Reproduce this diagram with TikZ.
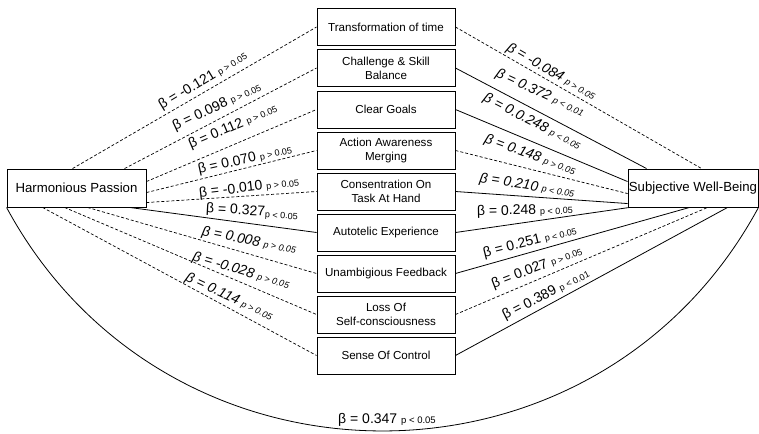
\documentclass[tikz,border=0pt]{standalone}
\usepackage{fontspec}
\setmainfont{Liberation Sans}
\newcommand{\pv}[1]{{\fontsize{9}{10}\selectfont #1}}

\tikzset{
  box/.style={draw, line width=0.9pt, inner sep=0pt, align=center},
  midbox/.style={box, minimum width=138pt, minimum height=37pt, font=\fontsize{11.6}{14}\selectfont},
  endbox/.style={box, minimum height=38pt, font=\fontsize{13.2}{15}\selectfont},
  sig/.style={line width=0.8pt},
  nsig/.style={line width=0.7pt, dash pattern=on 3pt off 2pt},
  lab/.style={inner sep=0pt, font=\fontsize{14}{15}\selectfont},
  slab/.style={lab, font=\fontsize{14}{15}\selectfont\itshape}
}

\begin{document}
\begin{tikzpicture}[x=1pt, y=-1pt]
			\useasboundingbox (0,0) rectangle (759,433);
			% outer variables
			\node[endbox, minimum width=139pt] (hp) at (76.5,188) {Harmonious Passion};
			\node[endbox, minimum width=130pt] (swb) at (693,188) {Subjective Well-Being};
			% flow dimensions
			\node[midbox] (time) at (386,27) {Transformation of time};
			\node[midbox] (balance) at (386,68) {Challenge \& Skill\\Balance};
			\node[midbox] (goals) at (386,109.5) {Clear Goals};
			\node[midbox] (merging) at (386,150.5) {Action Awareness\\Merging};
			\node[midbox] (focus) at (386,191.5) {Consentration On\\Task At Hand};
			\node[midbox] (autotelic) at (386,232.5) {Autotelic Experience};
			\node[midbox] (feedback) at (386,273.5) {Unambigious Feedback};
			\node[midbox] (selfcon) at (386,314.5) {Loss Of\\Self-consciousness};
			\node[midbox] (control) at (386,355.5) {Sense Of Control};
			% passion -> flow
			\draw[nsig] ([xshift=66pt]hp.north west) -- (time.west);
			\draw[nsig] ([xshift=118pt]hp.north west) -- (balance.west);
			\draw[nsig] ([yshift=-13pt]hp.north east) -- (goals.west);
			\draw[nsig] ([yshift=-24pt]hp.north east) -- (merging.west);
			\draw[nsig] ([yshift=-34pt]hp.north east) -- (focus.west);
			\draw[sig] ([xshift=123pt]hp.south west) -- (autotelic.west);
			\draw[nsig] ([xshift=81pt]hp.south west) -- (feedback.west);
			\draw[nsig] ([xshift=58pt]hp.south west) -- (selfcon.west);
			\draw[nsig] ([xshift=36pt]hp.south west) -- (control.west);
			% flow -> well-being
			\draw[nsig] (time.east) -- ([xshift=74pt]swb.north west);
			\draw[sig] (balance.east) -- ([xshift=19pt]swb.north west);
			\draw[sig] (goals.east) -- ([yshift=-13pt]swb.north west);
			\draw[nsig] (merging.east) -- ([yshift=-25pt]swb.north west);
			\draw[sig] (focus.east) -- ([yshift=-35pt]swb.north west);
			\draw[sig] (autotelic.east) -- ([xshift=2pt]swb.south west);
			\draw[sig] (feedback.east) -- ([xshift=62pt]swb.south west);
			\draw[nsig] (selfcon.east) -- ([xshift=80pt]swb.south west);
			\draw[sig] (control.east) -- ([xshift=100pt]swb.south west);
			% direct path
			\draw[sig] (hp.south west) .. controls +(161,298) and +(-161,298) .. (swb.south east);
			% coefficients, left
			\node[lab, rotate=31] (l1) at (203,81) {β = -0.121 \pv{p > 0.05}};
			\node[lab, rotate=25] (l2) at (217,107) {β = 0.098 \pv{p > 0.05}};
			\node[lab, rotate=23] (l3) at (233,127) {β = 0.112 \pv{p > 0.05}};
			\node[lab, rotate=12.5] (l4) at (245,160) {β = 0.070 \pv{p > 0.05}};
			\node[lab, rotate=6.5] (l5) at (249,188) {β = -0.010 \pv{p > 0.05}};
			\node[lab, rotate=-3] (l6) at (252,212) {β = 0.327\raisebox{-2pt}{\pv{p < 0.05}}};
			\node[slab, rotate=-11] (l7) at (249,241) {β = 0.008 \pv{p > 0.05}};
			\node[slab, rotate=-16.5] (l8) at (241,271) {β = -0.028 \pv{p > 0.05}};
			\node[slab, rotate=-25] (l9) at (229,297) {β = 0.114 \pv{p > 0.05}};
			% coefficients, right
			\node[slab, rotate=-30] (r1) at (551,72) {β = -0.084 \pv{p > 0.05}};
			\node[slab, rotate=-25] (r2) at (540,93) {β = 0.372 \pv{p < 0.01}};
			\node[slab, rotate=-27] (r3) at (532,122) {β = 0.0.248 \pv{p < 0.05}};
			\node[slab, rotate=-20] (r4) at (530,155) {β = 0.148 \pv{p > 0.05}};
			\node[slab, rotate=-9] (r5) at (527,186) {β = 0.210 \pv{p < 0.05}};
			\node[lab, rotate=1] (r6) at (525,211) {β = 0.248 \pv{p < 0.05}};
			\node[lab, rotate=14] (r7) at (530,242) {β = 0.251 \pv{p < 0.05}};
			\node[lab, rotate=21] (r8) at (537,268) {β = 0.027 \pv{p > 0.05}};
			\node[lab, rotate=27] (r9) at (546,295) {β = 0.389 \pv{p < 0.01}};
			\node[lab] (total) at (387,420) {β = 0.347 {\fontsize{9.5}{10}\selectfont p < 0.05}};
		\end{tikzpicture}
\end{document}
